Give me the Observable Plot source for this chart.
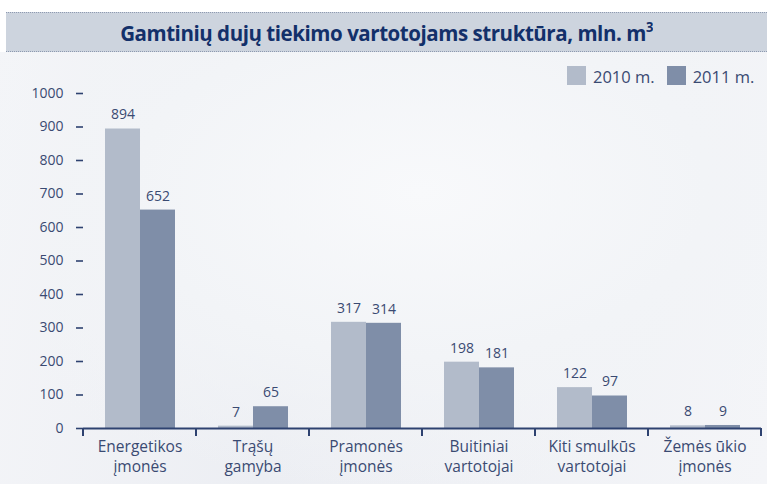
<!DOCTYPE html>
<html><head><meta charset="utf-8">
<script src="https://cdn.jsdelivr.net/npm/d3@7"></script>
<script src="https://cdn.jsdelivr.net/npm/@observablehq/plot@0.6"></script>
<style>
body{margin:0;width:767px;height:484px;overflow:hidden;font-family:"Open Sans",sans-serif;background:#fff;position:relative}
#bg{position:absolute;left:0;top:52px;width:767px;height:432px;
 background:radial-gradient(ellipse 520px 300px at 420px 140px,#f8f9fb 0%,#f2f4f7 55%,rgba(242,244,247,0) 100%),linear-gradient(100deg,#f4f5f8 0%,#eceef3 40%,#f4f5f8 100%)}
#title{position:absolute;left:6px;right:0;top:12px;height:38px;background:#cdd4de;border-top:1px dotted #8e9ab0;border-bottom:1px dotted #8e9ab0;text-align:center;line-height:38px;font-weight:bold;font-size:20.5px;color:#13306a;letter-spacing:-0.45px}
#title span{display:inline-block;transform:scaleY(1.08)}
#title sup{font-size:13px;vertical-align:8px;line-height:0}
#chart{position:absolute;left:0;top:0}
#legend{position:absolute;top:66px;left:567px;display:flex;align-items:flex-end;font-size:16.5px;color:#3a4a72;height:19px;white-space:nowrap}
#legend .sw{width:19px;height:19px;display:inline-block;margin-right:7px;flex:none}
#legend .item{display:flex;align-items:flex-end;margin-right:12px;line-height:17px;white-space:nowrap}
</style>
</head><body>
<div id="bg"></div>
<div id="title"><span>Gamtinių dujų tiekimo vartotojams struktūra, mln. m<sup>3</sup></span></div>
<div id="chart"></div>
<div id="legend"></div>
<script>
const categories = ["Energetikos\nįmonės","Trąšų\ngamyba","Pramonės\nįmonės","Buitiniai\nvartotojai","Kiti smulkūs\nvartotojai","Žemės ūkio\nįmonės"];
const years = ["2010 m.","2011 m."];
const values2010 = [894,7,317,198,122,8];
const values2011 = [652,65,314,181,97,9];
const yTicks = [0,100,200,300,400,500,600,700,800,900,1000];
const colors = ["#b2bbca","#7f8ea8"];
const textColor = "#3a4a72";
const axisColor = "#2e4270";

const rows = categories.flatMap((c,i)=>[
  {category:c,year:years[0],value:values2010[i]},
  {category:c,year:years[1],value:values2011[i]}
]);

const plot = Plot.plot({
  width:767,height:484,
  marginTop:93,marginBottom:56,marginLeft:83,marginRight:6,
  style:{background:"transparent",fontFamily:"Open Sans",fontSize:"14px",color:textColor,overflow:"visible"},
  facet:{data:rows,x:"category"},
  fx:{domain:categories,padding:0,axis:null,label:null},
  x:{domain:years,paddingInner:0,paddingOuter:0.614,axis:null,label:null},
  y:{domain:[0,1000],ticks:yTicks,tickSize:7,tickPadding:13,tickFormat:d3.format("d"),label:null},
  color:{domain:years,range:colors},
  marks:[
    Plot.barY(rows,{x:"year",y:"value",fill:"year"}),
    Plot.text(rows,{x:"year",y:"value",text:d=>String(d.value),dy:-14,fontSize:14,fill:textColor}),
    Plot.text(rows,{filter:d=>d.year===years[0],text:"category",frameAnchor:"bottom",dy:27,lineAnchor:"middle",lineHeight:1.3,fontSize:15.5,fill:textColor}),
    Plot.ruleY([0],{stroke:axisColor,strokeWidth:2})
  ]
});
document.getElementById("chart").appendChild(plot);

// y tick thickness
d3.select(plot).selectAll('g[aria-label="y-axis tick"] path, g[aria-label="y-axis"] .tick line').attr("stroke",axisColor).attr("stroke-width",1.6);

// category boundary ticks
const fx = plot.scale("fx"), y = plot.scale("y");
const y0 = y.apply ? y.apply(0) : y.range[0];
const start = fx.apply ? fx.apply(categories[0]) : fx.range[0];
const step = fx.step;
const svg = d3.select(plot);
const bounds = d3.range(categories.length+1).map(i=>start+i*step);
svg.append("g").selectAll("line").data(bounds).join("line")
  .attr("x1",d=>d).attr("x2",d=>d).attr("y1",y0).attr("y2",y0+8)
  .attr("stroke",axisColor).attr("stroke-width",2);

// legend
const lg = d3.select("#legend");
years.forEach((yr,i)=>{
  const it = lg.append("div").attr("class","item");
  it.append("span").attr("class","sw").style("background",colors[i]);
  it.append("span").text(yr);
});
</script>
</body></html>
